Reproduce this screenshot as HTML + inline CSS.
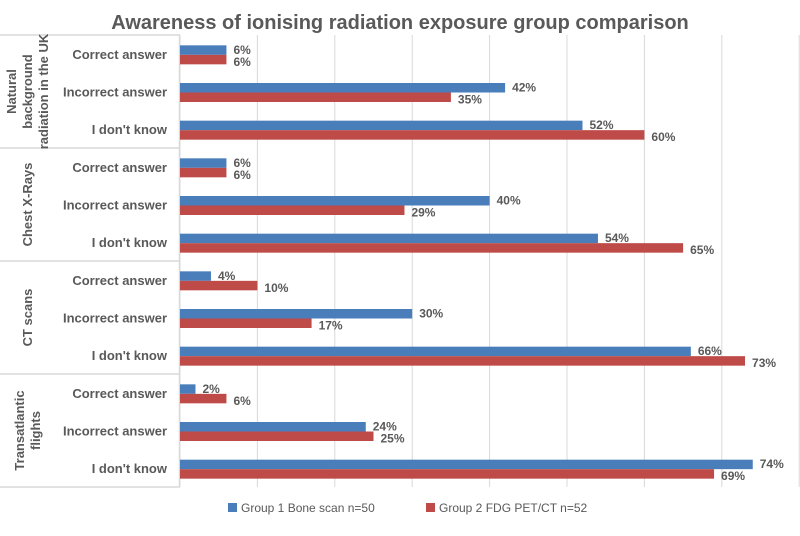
<!DOCTYPE html>
<html><head><meta charset="utf-8"><style>
body{margin:0;background:#fff;}
svg text{font-family:"Liberation Sans",sans-serif;fill:#595959;}
</style></head><body>
<svg id="c" width="800" height="531" xmlns="http://www.w3.org/2000/svg">
<text x="400" y="29" text-anchor="middle" font-size="20" font-weight="bold">Awareness of ionising radiation exposure group comparison</text>
<g id="grid"></g><g id="axes"></g><g id="bars"></g><g id="labels"></g>
<g>
<rect x="228" y="503" width="9" height="9" fill="#4a7ebb"/>
<text x="241" y="512" font-size="12">Group 1 Bone scan n=50</text>
<rect x="426" y="503" width="9" height="9" fill="#be4b48"/>
<text x="439" y="512" font-size="12">Group 2 FDG PET/CT n=52</text>
</g>
</svg>
<script>
const groups=[["Natural","background","radiation in the UK"],["Chest X-Rays"],["CT scans"],["Transatlantic","flights"]];
const categories=["Correct answer","Incorrect answer","I don't know"];
const group1=[6,42,52,6,40,54,4,30,66,2,24,74];
const group2=[6,35,60,6,29,65,10,17,73,6,25,69];
const group1Labels=["6%","42%","52%","6%","40%","54%","4%","30%","66%","2%","24%","74%"];
const group2Labels=["6%","35%","60%","6%","29%","65%","10%","17%","73%","6%","25%","69%"];
const ticks=[0,10,20,30,40,50,60,70,80];
const NS="http://www.w3.org/2000/svg";
const x0=180,pxPer=7.74,plotTop=35,groupH=113;
const X=v=>x0+v*pxPer;
const slotH=groupH/3;
function el(t,a,p){const e=document.createElementNS(NS,t);for(const k in a)e.setAttribute(k,a[k]);document.getElementById(p).appendChild(e);return e;}
ticks.forEach(t=>{const g=el("line",{x1:X(t),x2:X(t),y1:plotTop,y2:plotTop+4*groupH,stroke:"#d9d9d9","stroke-width":1},"grid");

});
const ax=el("line",{x1:x0-0.5,x2:x0-0.5,y1:plotTop,y2:plotTop+4*groupH,stroke:"#d9d9d9","stroke-width":1.5},"axes");


for(let g=0;g<=4;g++){const l=el("line",{x1:0,x2:x0,y1:plotTop+g*groupH,y2:plotTop+g*groupH,stroke:"#d9d9d9","stroke-width":1.5},"axes");

}
groups.forEach((lines,g)=>{const cy=plotTop+g*groupH+groupH/2;
const t=el("text",{transform:`translate(27,${cy}) rotate(-90)`,"text-anchor":"middle","font-size":13,"font-weight":"bold"},"axes");


lines.forEach((s,i)=>{const ts=document.createElementNS(NS,"tspan");ts.setAttribute("x",0);ts.setAttribute("y",(i-(lines.length-1)/2)*16+5);ts.textContent=s;t.appendChild(ts);});});
group1.forEach((v,i)=>{const g=Math.floor(i/3),c=i%3;const cy=plotTop+g*groupH+(c+0.5)*slotH+1;
const ct=el("text",{x:167,y:cy+4,"text-anchor":"end","font-size":13,"font-weight":"bold"},"labels");ct.textContent=categories[c];


const b1=el("rect",{x:x0,y:cy-9.5,width:X(v)-x0,height:9.5,fill:"#4a7ebb"},"bars");


const v2=group2[i];
const b2=el("rect",{x:x0,y:cy,width:X(v2)-x0,height:9.5,fill:"#be4b48"},"bars");


const l1=el("text",{x:X(v)+7,y:cy-1,"font-size":12,"font-weight":"bold"},"labels");l1.textContent=group1Labels[i];


const l2=el("text",{x:X(v2)+7,y:cy+11,"font-size":12,"font-weight":"bold"},"labels");l2.textContent=group2Labels[i];

});
</script>
</body></html>
